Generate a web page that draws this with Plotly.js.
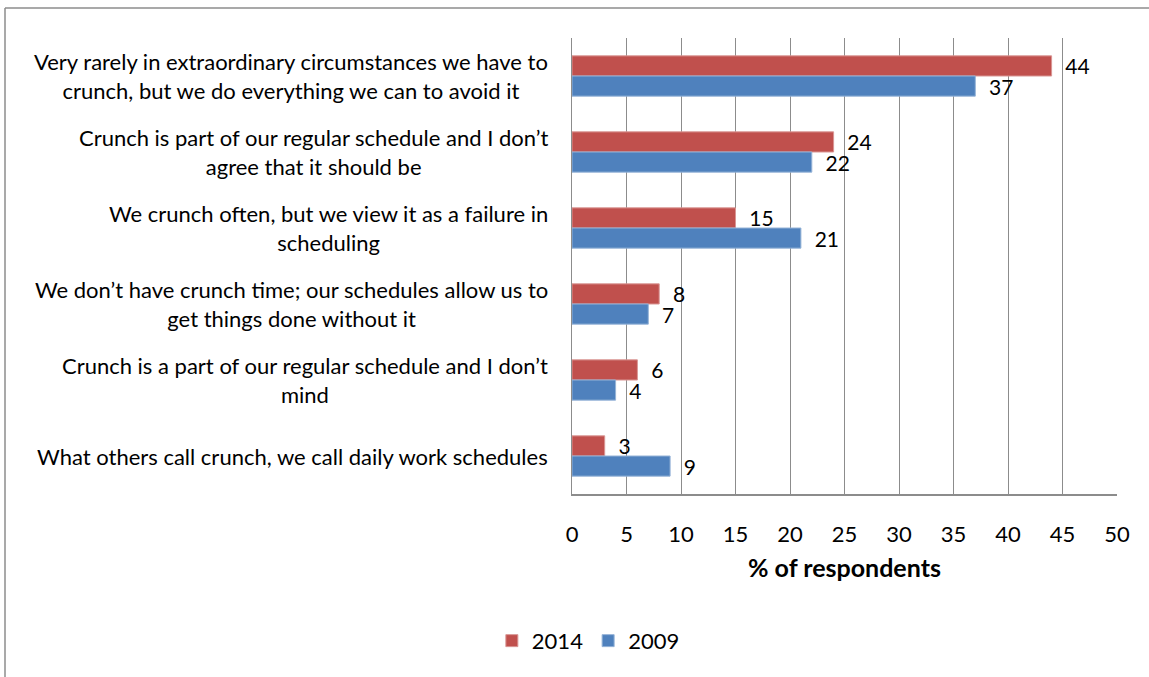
<!DOCTYPE html>
<html>
<head>
<meta charset="utf-8">
<script src="https://cdn.plot.ly/plotly-3.0.1.min.js"></script>
<style>html,body{margin:0;padding:0;background:#fff;}#chart{width:1149px;height:677px;}</style>
</head>
<body>
<div id="chart"></div>
<script>
const categories = [
  "Very rarely in extraordinary circumstances we have to<br>crunch, but we do everything we can to avoid it",
  "Crunch is part of our regular schedule and I don\u2019t<br>agree that it should be",
  "We crunch often, but we view it as a failure in<br>scheduling",
  "We don\u2019t have crunch time; our schedules allow us to<br>get things done without it",
  "Crunch is a part of our regular schedule and I don\u2019t<br>mind",
  "What others call crunch, we call daily work schedules"
];
const catKeys = ["c1","c2","c3","c4","c5","c6"];
const values2014 = [44, 24, 15, 8, 6, 3];
const values2009 = [37, 22, 21, 7, 4, 9];
const xTicks = [0,5,10,15,20,25,30,35,40,45,50];

const FONT = "Lato, 'Open Sans', sans-serif";
const FS = 22;
const pad = "\u00a0\u00a0";

const traces = [
  {type:'bar', orientation:'h', name:'2014', y:catKeys, x:values2014,
   text: values2014.map(v => pad + v), textposition:'outside', constraintext:'none', cliponaxis:false,
   textfont:{size:21, color:'#000', family:FONT},
   marker:{color:'#C0504D', line:{color:'#D99694', width:1}}, hoverinfo:'x'},
  {type:'bar', orientation:'h', name:'2009', y:catKeys, x:values2009,
   text: values2009.map(v => pad + v), textposition:'outside', constraintext:'none', cliponaxis:false,
   textfont:{size:21, color:'#000', family:FONT},
   marker:{color:'#4F81BD', line:{color:'#95B3D7', width:1}}, hoverinfo:'x'}
];

const annotations = categories.map((c, i) => ({
  xref:'paper', yref:'y', x:0, y:catKeys[i], xanchor:'right', yanchor:'middle',
  xshift:-22, align:'center', showarrow:false, text:c,
  font:{size:FS, color:'#000', family:FONT}
}));

const layout = {
  width:1149, height:677,
  margin:{l:572, r:32, t:38, b:183},
  paper_bgcolor:'#fff', plot_bgcolor:'#fff',
  font:{family:FONT, color:'#000'},
  barmode:'group', bargap:0.47, bargroupgap:0,
  showlegend:true,
  legend:{orientation:'h', x:0.03, xanchor:'center', y:-0.322, yanchor:'middle',
          font:{size:FS, family:FONT, color:'#000'}, traceorder:'normal'},
  xaxis:{range:[0,50], tickvals:xTicks, ticktext:xTicks.map(String),
         showgrid:true, gridcolor:'#8C8C8C', gridwidth:1,
         showline:true, linecolor:'#8C8C8C', linewidth:1.5,
         ticks:'', ticklabelstandoff:20, zeroline:false, fixedrange:true,
         tickfont:{size:FS, family:FONT, color:'#000'},
         title:{text:'<b>% of respondents</b>', font:{size:25, family:FONT, color:'#000'}, standoff:13}},
  yaxis:{type:'category', autorange:'reversed', showticklabels:false, ticks:'',
         showline:true, linecolor:'#8C8C8C', linewidth:1.5, showgrid:false, zeroline:false, fixedrange:true},
  annotations: annotations,
  shapes:[
    {type:'line', xref:'paper', yref:'paper', x0:-567/545, x1:1149/545, y0:(677-8-183)/456, y1:(677-8-183)/456,
     line:{color:'#8C8C8C', width:1.5}},
    {type:'line', xref:'paper', yref:'paper', x0:-567/545, x1:-567/545, y0:(677-8-183)/456, y1:-183/456,
     line:{color:'#8C8C8C', width:1.5}}
  ]
};

Plotly.newPlot('chart', traces, layout, {displayModeBar:false, staticPlot:true});
</script>
</body>
</html>
